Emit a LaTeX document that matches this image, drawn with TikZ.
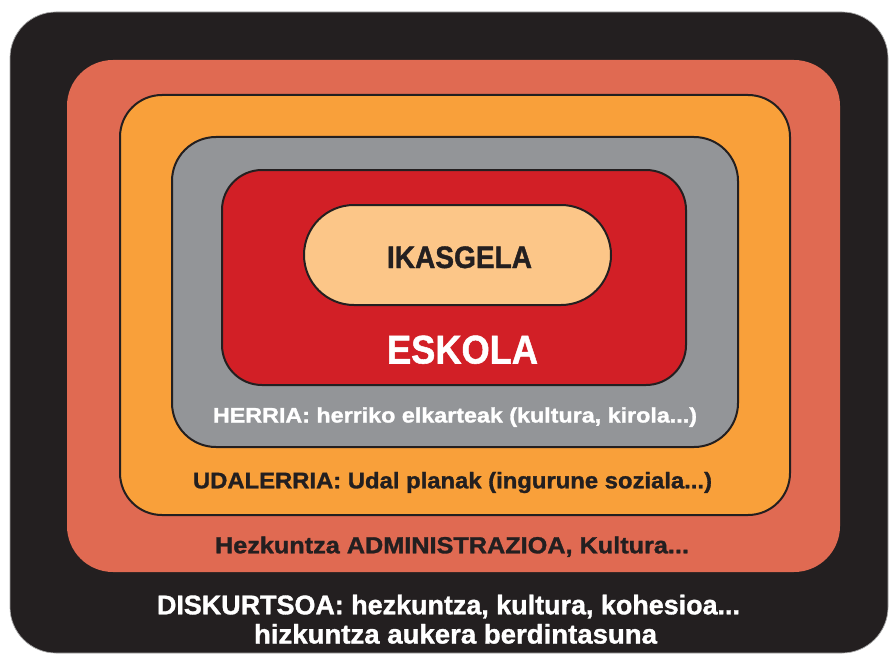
\documentclass[tikz,border=0pt]{standalone}
\usepackage{fontspec}
\usepackage{graphicx}
\setmainfont[BoldFeatures={FakeBold=1.3}]{Liberation Sans}
\definecolor{cblack}{HTML}{231F20}
\definecolor{csalmon}{HTML}{E06A52}
\definecolor{corange}{HTML}{F9A03A}
\definecolor{cgray}{HTML}{939598}
\definecolor{cred}{HTML}{D21F26}
\definecolor{cpeach}{HTML}{FCC688}
\newcommand{\fitw}[3]{\fontsize{#2}{#2}\selectfont\bfseries\resizebox{#1}{\height}{#3}}
\tikzset{
  layer/.style={draw=cblack, line width=2pt},
  lbl/.style={anchor=base, inner sep=0pt, outer sep=0pt},
}
\begin{document}
\begin{tikzpicture}[x=1pt,y=-1pt]
\useasboundingbox (0,0) rectangle (890,655);
\path[fill=cblack, draw=gray!70, line width=0.7pt, rounded corners=46pt] (10,12) rectangle (888,653);
\path[fill=csalmon, rounded corners=46pt] (67,60) rectangle (840,572);
\path[layer, fill=corange, rounded corners=42pt] (120,95) rectangle (790,515);
\path[layer, fill=cgray, rounded corners=44pt] (172,137) rectangle (738,447);
\path[layer, fill=cred, rounded corners=40pt] (222,170) rectangle (686,385);
\path[layer, fill=cpeach, rounded corners=50pt] (304,205) rectangle (611,305);
\node[lbl, text=cblack] (ikas) at (459.5,268) {\fitw{145pt}{31pt}{IKASGELA}};
\node[lbl, text=white] (esk) at (462.5,363.5) {\fitw{151pt}{40pt}{ESKOLA}};
\node[lbl, text=white] (herri) at (455,422.5) {\fitw{484pt}{21pt}{HERRIA: herriko elkarteak (kultura, kirola...)}};
\node[lbl, text=cblack] (udal) at (452.5,488.3) {\fitw{519pt}{22.6pt}{UDALERRIA: Udal planak (ingurune soziala...)}};
\node[lbl, text=cblack] (admin) at (452,553.3) {\fitw{474pt}{23.3pt}{Hezkuntza ADMINISTRAZIOA, Kultura...}};
\node[lbl, text=white] (disk) at (448.5,614.3) {\fitw{583pt}{27pt}{DISKURTSOA: hezkuntza, kultura, kohesioa...}};
\node[lbl, text=white] (hizk) at (455.5,643.5) {\fitw{403pt}{27pt}{hizkuntza aukera berdintasuna}};
\end{tikzpicture}
\end{document}
